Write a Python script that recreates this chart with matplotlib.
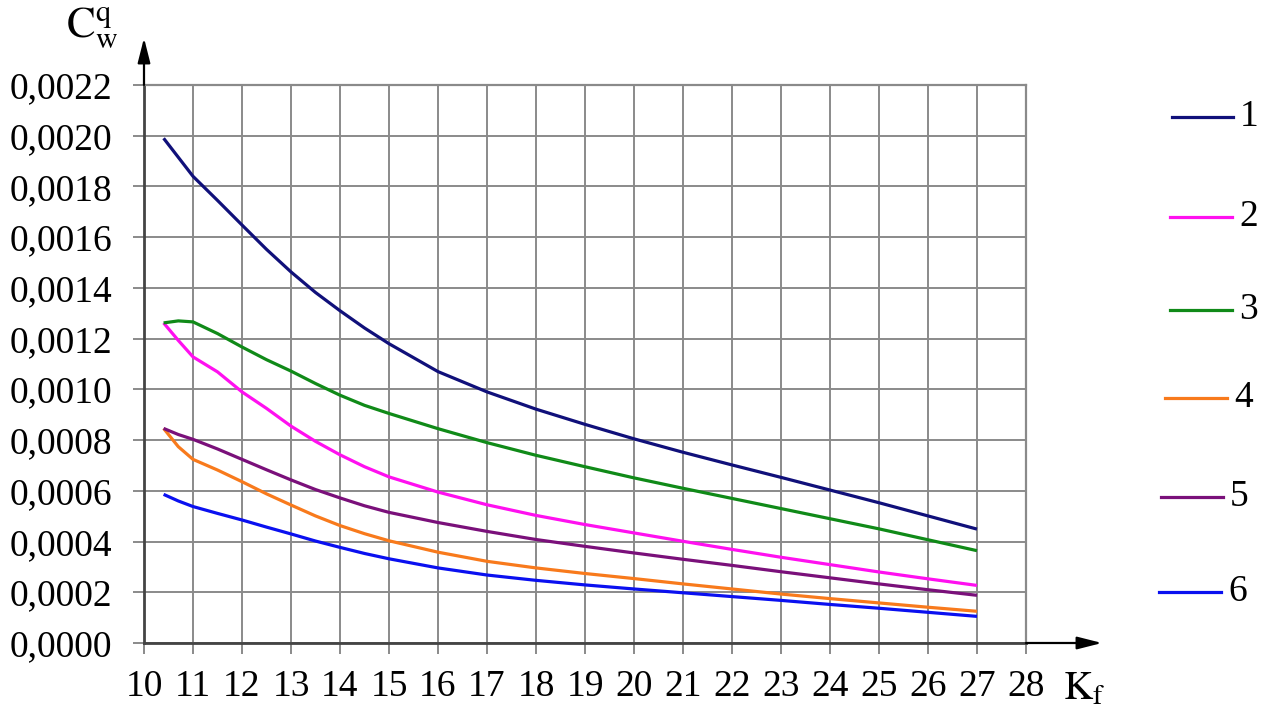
import matplotlib.pyplot as plt
from matplotlib.lines import Line2D
import numpy as np

plt.rcParams['font.family'] = ['Liberation Serif', 'DejaVu Serif']
plt.rcParams['mathtext.fontset'] = 'stix'

# Kf values (half steps where the curves bend most)
kf = [10.4, 10.7, 11, 11.5, 12, 12.5, 13, 13.5, 14, 14.5, 15,
      16, 17, 18, 19, 20, 21, 22, 23, 24, 25, 26, 27]

c1 = [0.00199, 0.001915, 0.00184, 0.001745, 0.001648, 0.001552, 0.001463, 0.001382,
      0.00131, 0.001242, 0.00118,
      0.00107, 0.00099, 0.000922, 0.000862, 0.000805, 0.000752, 0.000702,
      0.000653, 0.000603, 0.000553, 0.000501, 0.000449]
c2 = [0.001262, 0.001193, 0.001128, 0.001069, 0.00099, 0.000925, 0.000855, 0.000795,
      0.000742, 0.000695, 0.000655,
      0.000595, 0.000545, 0.000503, 0.000467, 0.000434, 0.000401, 0.000369,
      0.000338, 0.000309, 0.00028, 0.000253, 0.000227]
c3 = [0.001262, 0.00127, 0.001266, 0.00122, 0.001167, 0.001117, 0.001072, 0.001023,
      0.000977, 0.000937, 0.000905,
      0.000845, 0.00079, 0.00074, 0.000695, 0.000651, 0.00061, 0.00057,
      0.00053, 0.00049, 0.00045, 0.000407, 0.000364]
c4 = [0.000846, 0.000774, 0.000724, 0.000682, 0.000636, 0.000588, 0.000544, 0.000501,
      0.000463, 0.000431, 0.000403,
      0.000358, 0.000322, 0.000296, 0.000274, 0.000254, 0.000233, 0.000213,
      0.000193, 0.000175, 0.000158, 0.000141, 0.000125]
c5 = [0.000846, 0.000822, 0.000803, 0.000765, 0.000724, 0.000683, 0.000643, 0.000605,
      0.000572, 0.000541, 0.000515,
      0.000475, 0.00044, 0.000408, 0.000381, 0.000355, 0.00033, 0.000306,
      0.000281, 0.000257, 0.000233, 0.00021, 0.000188]
c6 = [0.000586, 0.00056, 0.000538, 0.000511, 0.000485, 0.000457, 0.00043, 0.000402,
      0.000377, 0.000353, 0.000332,
      0.000296, 0.000268, 0.000247, 0.000229, 0.000213, 0.000198, 0.000183,
      0.000168, 0.000152, 0.000137, 0.000121, 0.000105]

names = ['1', '2', '3', '4', '5', '6']
curves = [c1, c2, c3, c4, c5, c6]
colors = ['#10107a', '#ff10f0', '#108a18', '#f87a1c', '#7a107a', '#0a10f0']

yticks = np.arange(0, 0.00221, 0.0002)
ytick_labels = [('%.4f' % v).replace('.', ',') for v in yticks]

W, H = 1269, 706
fig = plt.figure(figsize=(W / 100, H / 100), dpi=100)
ax = fig.add_axes([144 / W, 1 - 643 / H, (1026 - 144) / W, (643 - 85) / H])

for vals, col in zip(curves, colors):
    ax.plot(kf, vals, color=col, lw=2.3, solid_capstyle='butt', solid_joinstyle='round')

ax.set_xlim(10, 28)
ax.set_ylim(0, 0.0022)
ax.set_xticks(range(10, 29))
ax.set_yticks(yticks)
ax.set_yticklabels(ytick_labels)
ax.grid(True, color='#8a8a8a', lw=1.4)
ax.set_axisbelow(True)
ax.tick_params(axis='both', labelsize=27, color='#8a8a8a', width=1.4, length=8)
ax.tick_params(axis='y', pad=15)
ax.tick_params(axis='x', pad=11)

for s in ['top', 'right']:
    ax.spines[s].set_color('#8a8a8a')
    ax.spines[s].set_linewidth(1.6)
for s in ['left', 'bottom']:
    ax.spines[s].set_color('#444444')
    ax.spines[s].set_linewidth(2.0)

# axis arrows
arrow = dict(arrowstyle='-|>,head_length=1.5,head_width=0.38',
             color='black', lw=1.6, shrinkA=0, shrinkB=0)
ax.annotate('', xy=(144 / W, 1 - 38 / H), xytext=(144 / W, 1 - 85 / H),
            xycoords='figure fraction', textcoords='figure fraction', arrowprops=arrow)
ax.annotate('', xy=(1102 / W, 1 - 643 / H), xytext=(1026 / W, 1 - 643 / H),
            xycoords='figure fraction', textcoords='figure fraction', arrowprops=arrow)

fig.text(66 / W, 1 - 28 / H, r'$\mathrm{C}_\mathrm{w}^\mathrm{q}$',
         fontsize=31, va='center', ha='left')
fig.text(1063 / W, 1 - 690 / H, r'$\mathrm{K}_\mathrm{f}$',
         fontsize=29, va='center', ha='left')

# legend entries, staggered down the right side
legend_pos = [(1172, 1233, 117), (1170, 1232, 217), (1170, 1232, 310),
              (1165, 1227, 398), (1161, 1223, 497), (1159, 1221, 592)]
for name, col, (x0, x1, y) in zip(names, colors, legend_pos):
    fig.add_artist(Line2D([x0 / W, x1 / W], [1 - y / H, 1 - y / H],
                          color=col, lw=2.3, transform=fig.transFigure))
    fig.text((x1 + 7) / W, 1 - y / H, name, fontsize=27, va='center', ha='left')

fig.savefig('out.png', dpi=100)
